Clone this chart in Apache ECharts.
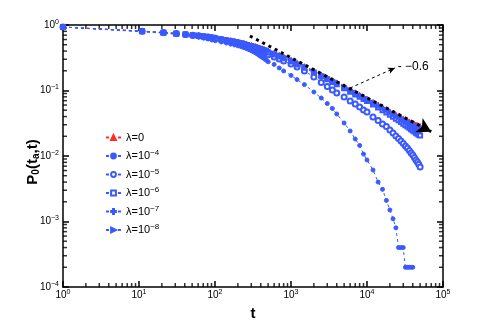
<!DOCTYPE html>
<html>
<head>
<meta charset="utf-8">
<script src="https://cdn.jsdelivr.net/npm/echarts@6/dist/echarts.min.js"></script>
<style>
  html, body { margin: 0; padding: 0; background: #fff; }
  #main { width: 491px; height: 327px; }
</style>
</head>
<body>
<div id="main"></div>
<script>
  // time points t (shared by all series)
  var T = [1, 11, 21, 31, 41, 51, 61, 71, 81, 91, 101, 121, 141, 161, 181, 201, 221, 241, 261, 281,
    301, 321, 341, 361, 381, 401, 421, 441, 461, 481, 501,
    600, 700, 800, 1000, 1200, 1500, 2000, 2500, 3000, 3500, 4000, 5000, 6000, 7000, 8000, 9000, 10000,
    12000, 14000, 16000, 18000, 20000, 22000, 24000, 26000, 28000, 30000, 32000, 34000, 36000, 38000,
    40000, 42000, 44000, 46000, 48000, 50000];

  // P0(ta,t)
  var P_L0 = [0.93, 0.81, 0.77, 0.75, 0.73, 0.71, 0.70, 0.68, 0.67, 0.66, 0.64, 0.62, 0.60, 0.585, 0.57, 0.555, 0.54, 0.53, 0.515, 0.505,
    0.495, 0.485, 0.475, 0.465, 0.455, 0.445, 0.44, 0.43, 0.42, 0.415, 0.41,
    0.375, 0.35, 0.33, 0.295, 0.265, 0.235, 0.2, 0.175, 0.157, 0.143, 0.133, 0.116, 0.104, 0.094, 0.086, 0.080, 0.075,
    0.067, 0.061, 0.056, 0.052, 0.048, 0.0455, 0.043, 0.041, 0.039, 0.0375, 0.036, 0.0348, 0.0337, 0.0326,
    0.0318, 0.031, 0.0303, 0.0297, 0.0292, 0.0287];
  var P_L4 = [0.93, 0.79, 0.75, 0.72, 0.69, 0.67, 0.65, 0.63, 0.61, 0.59, 0.575, 0.55, 0.53, 0.51, 0.495, 0.48, 0.465, 0.45, 0.435, 0.42,
    0.405, 0.39, 0.375, 0.36, 0.345, 0.33, 0.32, 0.308, 0.297, 0.286, 0.275,
    0.25, 0.221, 0.199, 0.17, 0.147, 0.123, 0.0948, 0.0768, 0.0633, 0.0531, 0.0438, 0.0319, 0.0241, 0.0182, 0.0145, 0.0107, 0.0087,
    0.0061, 0.004, 0.0031, 0.0021, 0.0015, 0.0011, 0.0008, 0.0004, 0.0004, 0.0004, 0.0002, 0.0002, 0.0002, 0.0002,
    0.0002, null, null, null, null, null];
  var P_L5 = [0.93, 0.80, 0.765, 0.74, 0.715, 0.70, 0.685, 0.67, 0.655, 0.64, 0.625, 0.60, 0.58, 0.565, 0.55, 0.535, 0.52, 0.505, 0.49, 0.475,
    0.465, 0.45, 0.44, 0.425, 0.415, 0.40, 0.39, 0.38, 0.37, 0.36, 0.35,
    0.325, 0.303, 0.282, 0.254, 0.229, 0.199, 0.161, 0.133, 0.115, 0.102, 0.0916, 0.0796, 0.0691, 0.0622, 0.056, 0.0504, 0.047,
    0.0394, 0.0348, 0.0308, 0.0282, 0.0249, 0.0224, 0.0202, 0.0185, 0.0169, 0.0155, 0.0142, 0.0132, 0.0121, 0.0111,
    0.0104, 0.0095, 0.0087, 0.0081, 0.0075, 0.0068];
  var P_L6 = [0.93, 0.80, 0.76, 0.735, 0.715, 0.695, 0.68, 0.665, 0.65, 0.64, 0.62, 0.60, 0.58, 0.565, 0.55, 0.535, 0.52, 0.505, 0.495, 0.48,
    0.47, 0.46, 0.45, 0.44, 0.43, 0.42, 0.41, 0.40, 0.395, 0.385, 0.38,
    0.355, 0.33, 0.31, 0.277, 0.25, 0.222, 0.188, 0.165, 0.148, 0.135, 0.125, 0.108, 0.096, 0.087, 0.080, 0.074, 0.069,
    0.061, 0.055, 0.050, 0.046, 0.0425, 0.0397, 0.0372, 0.035, 0.033, 0.0312, 0.0296, 0.0282, 0.0269, 0.0257,
    0.0246, 0.0236, 0.0227, 0.0219, 0.0212, 0.0205];
  var P_L7 = [0.93, 0.80, 0.76, 0.74, 0.72, 0.70, 0.69, 0.67, 0.66, 0.65, 0.63, 0.61, 0.59, 0.575, 0.56, 0.545, 0.53, 0.52, 0.505, 0.495,
    0.485, 0.475, 0.465, 0.455, 0.445, 0.435, 0.43, 0.42, 0.41, 0.405, 0.40,
    0.365, 0.34, 0.32, 0.286, 0.257, 0.229, 0.195, 0.17, 0.153, 0.139, 0.129, 0.112, 0.100, 0.091, 0.0835, 0.0775, 0.0725,
    0.0645, 0.0585, 0.0535, 0.0495, 0.046, 0.0433, 0.041, 0.0389, 0.037, 0.0353, 0.0338, 0.0325, 0.0313, 0.0302,
    0.0292, 0.0283, 0.0275, 0.0268, 0.0261, 0.0255];
  var P_L8 = [0.93, 0.805, 0.765, 0.745, 0.725, 0.705, 0.695, 0.675, 0.665, 0.655, 0.635, 0.615, 0.595, 0.58, 0.565, 0.55, 0.535, 0.525, 0.51, 0.50,
    0.49, 0.48, 0.47, 0.46, 0.45, 0.44, 0.435, 0.425, 0.415, 0.41, 0.405,
    0.37, 0.345, 0.325, 0.29, 0.26, 0.232, 0.197, 0.172, 0.155, 0.141, 0.131, 0.114, 0.102, 0.0925, 0.085, 0.079, 0.074,
    0.066, 0.060, 0.055, 0.051, 0.0473, 0.0447, 0.0423, 0.0402, 0.0383, 0.0367, 0.0353, 0.0340, 0.0329, 0.0318,
    0.0309, 0.0301, 0.0293, 0.0286, 0.0280, 0.0274];

  var NAMES = ['λ=0', 'λ=1e-4', 'λ=1e-5', 'λ=1e-6', 'λ=1e-7', 'λ=1e-8'];
  var EXPS = [null, 4, 5, 6, 7, 8];

  // minor tick positions (log axes)
  var X_MINOR = [2, 3, 4, 5, 6, 7, 8, 9, 20, 30, 40, 50, 60, 70, 80, 90, 200, 300, 400, 500, 600, 700, 800, 900,
    2000, 3000, 4000, 5000, 6000, 7000, 8000, 9000, 20000, 30000, 40000, 50000, 60000, 70000, 80000, 90000];
  var Y_MINOR = [0.0002, 0.0003, 0.0004, 0.0005, 0.0006, 0.0007, 0.0008, 0.0009, 0.002, 0.003, 0.004, 0.005, 0.006, 0.007, 0.008, 0.009,
    0.02, 0.03, 0.04, 0.05, 0.06, 0.07, 0.08, 0.09, 0.2, 0.3, 0.4, 0.5, 0.6, 0.7, 0.8, 0.9];

  var RED = '#ff2b2b';
  var BLUE = '#3a5aff';
  var FONT = '"Liberation Sans Narrow", "Liberation Sans", Arial, sans-serif';
  var BOLD = '"Liberation Sans", Arial, sans-serif';

  function pairs(arr) {
    return T.map(function (t, i) { return [t, arr[i]]; });
  }

  function sup(v) {
    var e = Math.round(Math.log10(v));
    return '{b|10}{e|' + (e < 0 ? '−' + (-e) : e) + '}';
  }

  var tickRich = {
    b: { fontSize: 10, fontFamily: FONT, color: '#000' },
    e: { fontSize: 7, fontFamily: FONT, color: '#000', verticalAlign: 'top', padding: [0, 0, 6, 0] }
  };

  function lineSeries(name, arr, color, symbol, size, extra) {
    var s = {
      name: name,
      type: 'line',
      data: pairs(arr),
      symbol: symbol,
      symbolSize: size,
      showAllSymbol: true,
      lineStyle: { color: color, width: 1, type: [3, 3] },
      itemStyle: { color: color, borderColor: color, borderWidth: 1 },
      emphasis: { disabled: true }
    };
    for (var k in extra) s[k] = extra[k];
    return s;
  }

  // minor ticks on one side of the box, as tiny scatter marks pushed inside the frame
  function tickSeries(values, side) {
    var horiz = side === 'bottom' || side === 'top';
    return {
      type: 'scatter',
      clip: false,
      symbol: 'rect',
      symbolSize: horiz ? [1.5, 4] : [4, 1.5],
      symbolOffset: side === 'bottom' ? [0, -2] : side === 'top' ? [0, 2] : side === 'left' ? [2, 0] : [-2, 0],
      itemStyle: { color: '#000' },
      data: values.map(function (v) {
        if (side === 'bottom') return [v, 1e-4];
        if (side === 'top') return [v, 1];
        if (side === 'left') return [1, v];
        return [1e5, v];
      })
    };
  }

  function boxAxis(extra) {
    var a = {
      type: 'log',
      axisLine: { lineStyle: { color: '#000', width: 1.5 } },
      axisTick: { show: true, inside: true, length: 6, lineStyle: { color: '#000', width: 1.5 } },
      splitLine: { show: false }
    };
    for (var k in extra) a[k] = extra[k];
    return a;
  }

  var myChart = echarts.init(document.getElementById('main'));
  myChart.setOption({
    animation: false,
    grid: { left: 63, right: 48, top: 25, bottom: 40 },
    legend: {
      data: NAMES,
      orient: 'vertical',
      left: 100,
      top: 127,
      itemWidth: 15,
      itemHeight: 6,
      itemGap: 6,
      formatter: function (name) {
        var e = EXPS[NAMES.indexOf(name)];
        return e == null ? '{b|λ=0}' : '{b|λ=10}{e|−' + e + '}';
      },
      textStyle: {
        rich: {
          b: { fontSize: 11, fontFamily: FONT, color: '#000', lineHeight: 14 },
          e: { fontSize: 8, fontFamily: FONT, color: '#000', verticalAlign: 'top', padding: [0, 0, 6, 0] }
        }
      }
    },
    xAxis: [boxAxis({
      min: 1,
      max: 100000,
      name: 't',
      nameLocation: 'middle',
      nameGap: 19,
      nameMoveOverlap: false,
      nameTextStyle: { fontSize: 15, fontWeight: 'bold', fontFamily: BOLD, color: '#000' },
      axisLabel: { formatter: sup, rich: tickRich, margin: 2 }
    }), boxAxis({
      min: 1,
      max: 100000,
      position: 'top',
      axisLabel: { show: false }
    })],
    yAxis: [boxAxis({
      min: 0.0001,
      max: 1,
      name: '{p|P}{s|0}{p|(t}{s|a}{p|,t)}',
      nameLocation: 'middle',
      nameRotate: 90,
      nameGap: 22,
      nameMoveOverlap: false,
      nameTextStyle: {
        padding: [0, 12, 0, 0],
        rich: {
          p: { fontSize: 15, fontWeight: 'bold', fontFamily: BOLD, color: '#000' },
          s: { fontSize: 10, fontWeight: 'bold', fontFamily: BOLD, color: '#000', verticalAlign: 'bottom', padding: [6, 0, 0, 0] }
        }
      },
      axisLabel: { formatter: sup, rich: tickRich, margin: 4 }
    }), boxAxis({
      min: 0.0001,
      max: 1,
      position: 'right',
      axisLabel: { show: false }
    })],
    series: [
      lineSeries(NAMES[0], P_L0, RED, 'triangle', 5, {}),
      lineSeries(NAMES[1], P_L4, BLUE, 'circle', 4, {}),
      lineSeries(NAMES[2], P_L5, BLUE, 'emptyCircle', 5, {}),
      lineSeries(NAMES[3], P_L6, BLUE, 'emptyRect', 4, {}),
      lineSeries(NAMES[4], P_L7, BLUE, 'path://M4,0H6V4H10V6H6V10H4V6H0V4H4Z', 5, {}),
      lineSeries(NAMES[5], P_L8, BLUE, 'triangle', 5, { symbolRotate: -90 }),
      tickSeries(X_MINOR, 'bottom'),
      tickSeries(X_MINOR, 'top'),
      tickSeries(Y_MINOR, 'left'),
      tickSeries(Y_MINOR, 'right'),
      {
        name: 'guide',
        type: 'line',
        data: [],
        silent: true,
        markLine: {
          silent: true,
          animation: false,
          data: [
            [{ coord: [288, 0.68], symbol: 'none', lineStyle: { color: '#000', width: 3, type: [3, 4] } },
             { coord: [70000, 0.0235], symbol: 'arrow', symbolSize: [12, 14] }],
            [{ coord: [5970, 0.109], symbol: 'none', lineStyle: { color: '#000', width: 1, type: [3, 3] },
               label: { show: true, position: 'end', formatter: '- −0.6', fontSize: 12, fontFamily: FONT, color: '#000', distance: 3 } },
             { coord: [23300, 0.221], symbol: 'arrow', symbolSize: [5, 7] }]
          ],
          lineStyle: { color: '#000' },
          label: { show: false }
        }
      }
    ]
  });
</script>
</body>
</html>
